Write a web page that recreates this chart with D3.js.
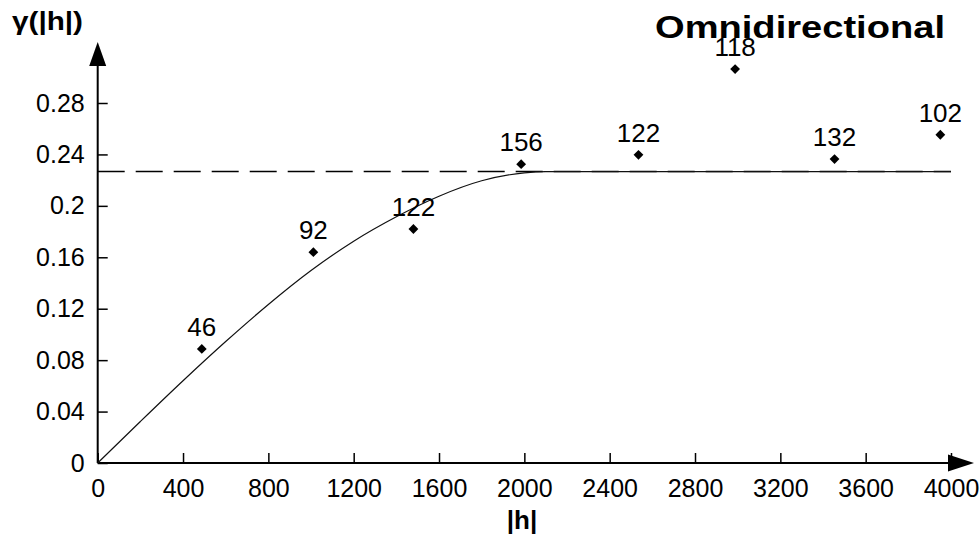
<!DOCTYPE html>
<html>
<head>
<meta charset="utf-8">
<script src="https://cdn.jsdelivr.net/npm/d3@7"></script>
<style>
  body { margin: 0; background: #fff; }
  text { font-family: "Liberation Sans", Arial, sans-serif; fill: #000; }
</style>
</head>
<body>
<div id="chart"></div>
<script>
// experimental variogram points (lag, semivariance, pair count)
const lagH = [488, 1011, 1480, 1985, 2535, 2988, 3454, 3950]
const gammaH = [0.0887, 0.164, 0.182, 0.2324, 0.2397, 0.3064, 0.2364, 0.2553]
const pairs = ['46', '92', '122', '156', '122', '118', '132', '102']

// fitted model curve
const modelH = [0, 200, 400, 600, 800, 1000, 1200, 1400, 1600, 1800, 2000, 2100, 4000]
const modelG = [0, 0.0323, 0.064, 0.0945, 0.1233, 0.1497, 0.1725, 0.1915, 0.2075, 0.2195, 0.2257, 0.2267, 0.2267]

const sill = 0.2267

const xTicks = [0, 400, 800, 1200, 1600, 2000, 2400, 2800, 3200, 3600, 4000]
const yTicks = [0, 0.04, 0.08, 0.12, 0.16, 0.2, 0.24, 0.28]
const yTickLabels = ['0', '0.04', '0.08', '0.12', '0.16', '0.2', '0.24', '0.28']

const width = 980
const height = 537

const svg = d3.select('#chart')
  .append('svg')
  .attr('width', width)
  .attr('height', height)

// scales
const scaleX = d3.scaleLinear()
  .domain([0, 4000])
  .range([97.7, 951])

const scaleY = d3.scaleLinear()
  .domain([0, 0.28])
  .range([463, 103])

const x0 = scaleX(0)
const y0 = scaleY(0)

// x axis
const xAxis = d3.axisBottom(scaleX)
  .tickValues(xTicks)
  .tickFormat(d => String(d))
  .tickSize(-10)
  .tickPadding(16)

const gx = svg.append('g')
  .attr('transform', `translate(0, ${y0})`)
  .call(xAxis)
gx.select('.domain').remove()
gx.selectAll('line').attr('stroke', '#000').attr('stroke-width', 1.5)
gx.selectAll('text').style('font-size', '25px').attr('font-family', null)

// y axis
const yAxis = d3.axisLeft(scaleY)
  .tickValues(yTicks)
  .tickFormat((d, i) => yTickLabels[i])
  .tickSize(-10)
  .tickPadding(13)

const gy = svg.append('g')
  .attr('transform', `translate(${x0}, 0)`)
  .call(yAxis)
gy.select('.domain').remove()
gy.selectAll('line').attr('stroke', '#000').attr('stroke-width', 1.5)
gy.selectAll('text').style('font-size', '25px').attr('font-family', null)

// axis lines with arrows
svg.append('line')
  .attr('x1', x0).attr('y1', y0)
  .attr('x2', 960).attr('y2', y0)
  .attr('stroke', '#000').attr('stroke-width', 2)
svg.append('path')
  .attr('d', `M948,454.5 L974,${y0} L948,471.5 Z`)
  .attr('fill', '#000')

svg.append('line')
  .attr('x1', x0).attr('y1', y0)
  .attr('x2', x0).attr('y2', 55)
  .attr('stroke', '#000').attr('stroke-width', 2)
svg.append('path')
  .attr('d', `M${x0 - 8.5},66 L${x0},42 L${x0 + 8.5},66 Z`)
  .attr('fill', '#000')

// sill (dashed)
svg.append('line')
  .attr('x1', x0).attr('y1', scaleY(sill))
  .attr('x2', scaleX(4000)).attr('y2', scaleY(sill))
  .attr('stroke', '#000')
  .attr('stroke-width', 1.6)
  .attr('stroke-dasharray', '27,11')

// model curve
const line = d3.line()
  .x((d, i) => scaleX(modelH[i]))
  .y(d => scaleY(d))
  .curve(d3.curveMonotoneX)

svg.append('path')
  .datum(modelG)
  .attr('d', line)
  .attr('fill', 'none')
  .attr('stroke', '#111')
  .attr('stroke-width', 1.2)

// points
const diamond = d3.symbol(d3.symbolSquare, 48)
svg.append('g')
  .selectAll('path')
  .data(gammaH)
  .enter()
  .append('path')
  .attr('d', diamond)
  .attr('transform', (d, i) => `translate(${scaleX(lagH[i])}, ${scaleY(d)}) rotate(45)`)
  .attr('fill', '#000')

// pair counts
svg.append('g')
  .selectAll('text')
  .data(gammaH)
  .enter()
  .append('text')
  .text((d, i) => pairs[i])
  .attr('x', (d, i) => scaleX(lagH[i]))
  .attr('y', d => scaleY(d) - 13)
  .attr('text-anchor', 'middle')
  .style('font-size', '26px')

// title
svg.append('text')
  .text('Omnidirectional')
  .attr('x', 655)
  .attr('y', 38)
  .attr('textLength', 290)
  .attr('lengthAdjust', 'spacingAndGlyphs')
  .style('font-size', '32px')
  .style('font-weight', 'bold')

// axis labels
svg.append('text')
  .text('γ(|h|)')
  .attr('x', 12)
  .attr('y', 30)
  .attr('textLength', 71)
  .attr('lengthAdjust', 'spacingAndGlyphs')
  .style('font-size', '25px')
  .style('font-weight', 'bold')

svg.append('text')
  .text('|h|')
  .attr('x', 522)
  .attr('y', 529)
  .attr('text-anchor', 'middle')
  .style('font-size', '26px')
  .style('font-weight', 'bold')
</script>
</body>
</html>
